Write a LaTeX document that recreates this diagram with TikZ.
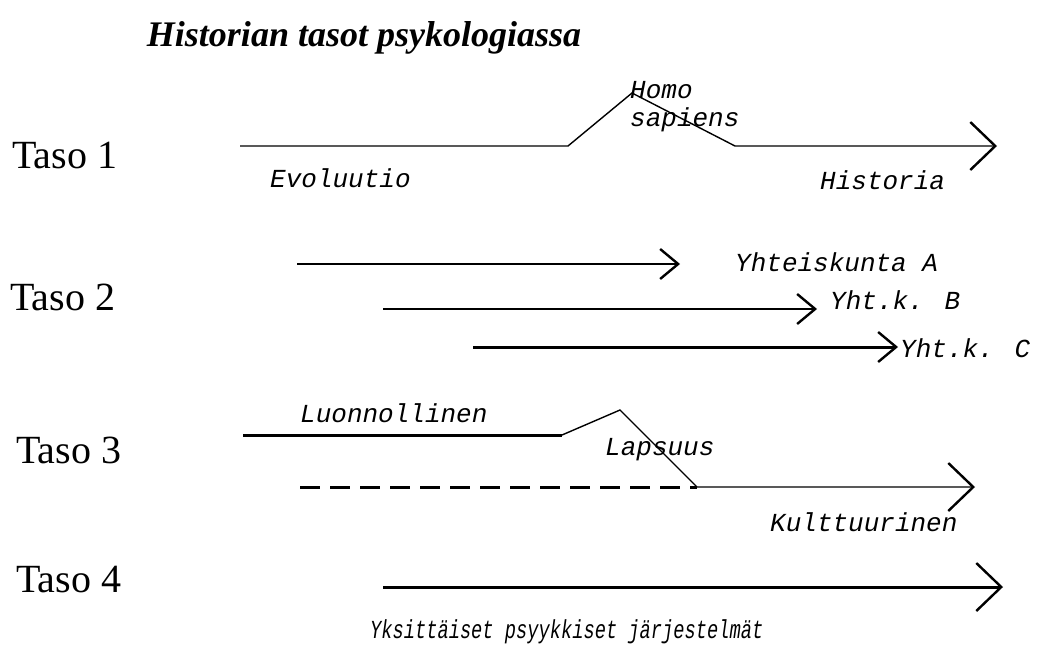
\documentclass[tikz,border=0pt]{standalone}
\usepackage{fontspec}
\setmainfont{Liberation Serif}
\newfontfamily\labelfont{Liberation Mono}
\usetikzlibrary{arrows.meta}

\begin{document}
\begin{tikzpicture}[x=1pt, y=-1pt,
  track/.style = {line width=1.4pt},
  heavy/.style = {line width=3pt},
  big head/.style = {-{Straight Barb[length=25pt, width=48pt, line width=2.4pt]}},
  small head/.style = {-{Straight Barb[length=18pt, width=30pt, line width=2.4pt]}},
  tasolabel/.style = {font=\fontsize{40}{40}\selectfont, anchor=west, inner sep=0pt},
  lbl/.style = {font=\labelfont\itshape\fontsize{26}{26}\selectfont, anchor=west, inner sep=0pt},
  ]
  \useasboundingbox (0,0) rectangle (1039,654);

  \node (title) at (364,38) {\fontsize{36}{36}\selectfont\bfseries\itshape Historian tasot psykologiassa};

  \node[tasolabel] (taso1) at (12,155) {Taso 1};
  \node[tasolabel] (taso2) at (10,297) {Taso 2};
  \node[tasolabel] (taso3) at (16,450) {Taso 3};
  \node[tasolabel] (taso4) at (16,580) {Taso 4};

  % taso 1
  \coordinate (evo) at (240,146);
  \coordinate (rise) at (568,146);
  \coordinate (peak) at (632,93);
  \coordinate (fall) at (735,146);
  \coordinate (hist) at (997,146);
  \draw[track, big head] (evo) -- (rise) -- (peak) -- (fall) -- (hist);
  \node[lbl] (evolbl) at (270,178) {Evoluutio};
  \node[lbl] (homo) at (630,90) {Homo};
  \node[lbl] (sapiens) at (630,120) {sapiens};
  \node[lbl] (histlbl) at (820,180) {Historia};

  % taso 2
  \coordinate (a0) at (297,264);
  \coordinate (a1) at (680,264);
  \coordinate (b0) at (383,309);
  \coordinate (b1) at (817,309);
  \coordinate (c0) at (473,347);
  \coordinate (c1) at (898,347);
  \draw[track, small head] (a0) -- (a1);
  \draw[track, small head] (b0) -- (b1);
  \draw[heavy, small head] (c0) -- (c1);
  \node[lbl] (yhta) at (735,262) {Yhteiskunta A};
  \node[lbl] (yhtb) at (830,300) {Yht.k. B};
  \node[lbl] (yhtc) at (900,348) {Yht.k. C};

  % taso 3
  \coordinate (luo0) at (243,435);
  \coordinate (luo1) at (562,435);
  \coordinate (lap) at (620,410);
  \coordinate (kul0) at (697,487);
  \coordinate (kul1) at (975,487);
  \coordinate (dash0) at (300,487);
  \draw[heavy] (luo0) -- (luo1);
  \draw[track, big head] (luo1) -- (lap) -- (kul0) -- (kul1);
  \draw[heavy, dash pattern=on 20pt off 10pt] (dash0) -- (kul0);
  \node[lbl] (luolbl) at (300,413) {Luonnollinen};
  \node[lbl] (laplbl) at (605,450) {Lapsuus};
  \node[lbl] (kullbl) at (770,522) {Kulttuurinen};

  % taso 4
  \coordinate (yks0) at (383,587);
  \coordinate (yks1) at (1003,587);
  \draw[heavy, big head] (yks0) -- (yks1);
  \node[lbl, xscale=0.72] (ykslbl) at (370,632) {Yksittäiset psyykkiset järjestelmät};
\end{tikzpicture}
\end{document}
